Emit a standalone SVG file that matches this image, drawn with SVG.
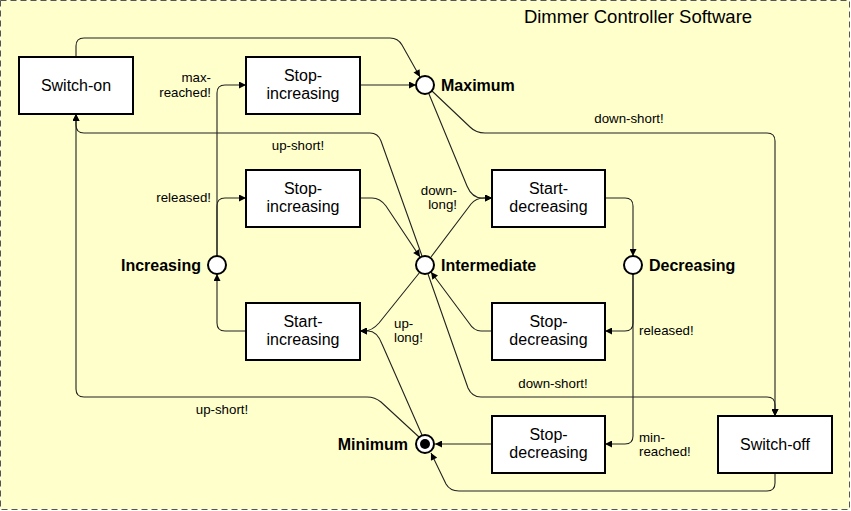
<svg xmlns="http://www.w3.org/2000/svg" width="851" height="511" viewBox="0 0 851 511">
<style>
text{font-family:"Liberation Sans",Arial,sans-serif;fill:#000}
.box{fill:#fff;stroke:#000;stroke-width:2}
.bt{font-size:16px;text-anchor:middle}
.st{fill:#fff;stroke:#000;stroke-width:2}
.sl{font-size:16px;font-weight:bold}
.lb{font-size:13.3px}
.c{fill:none;stroke:#222;stroke-width:1.1}
.a{marker-end:url(#arr)}
</style>
<defs>
<marker id="arr" viewBox="0 0 10 10" refX="10" refY="5" markerWidth="8" markerHeight="7" markerUnits="userSpaceOnUse" orient="auto"><path d="M0,0 L10,5 L0,10 z" fill="#000"/></marker>
</defs>
<rect x="0.5" y="0.5" width="849" height="509" fill="#ffffcc" stroke="#555" stroke-width="1" stroke-dasharray="6,4"/>
<text x="638" y="23" style="font-size:18.5px" text-anchor="middle">Dimmer Controller Software</text>

<g id="connectors">
<path class="c a" d="M76,57 V46 Q76,38 84,38 H390 Q398,38 402,45 L420,77"/>
<path class="c a" d="M360,85 H416"/>
<path class="c a" d="M217,256 V93 Q217,85 225,85 H246"/>
<path class="c a" d="M217,256 V206 Q217,198 225,198 H246"/>
<path class="c a" d="M360,198 H372 Q380,198 386,206 L420,257"/>
<path class="c a" d="M429,94 L467,186 Q472,198 482,198 H492"/>
<path class="c a" d="M431,257 L471,204 Q476,198 484,198 H492"/>
<path class="c a" d="M432,91 L470,127 Q476,133 485,133 H767 Q775,133 775,141 V416"/>
<path class="c a" d="M422,256 L381,141 Q378,133 370,133 H84 Q76,133 76,125 V114"/>
<path class="c a" d="M419,437 L381,402 Q375,397 367,397 H84 Q76,397 76,389 V114"/>
<path class="c a" d="M422,435 L382,344 Q377,331 368,331 H360"/>
<path class="c a" d="M420,272 L379,323 Q372,331 364,331 H360"/>
<path class="c a" d="M246,331 H225 Q217,331 217,323 V274"/>
<path class="c a" d="M605,198 H625 Q633,198 633,206 V256"/>
<path class="c a" d="M633,274 V323 Q633,331 625,331 H605"/>
<path class="c a" d="M633,274 V436 Q633,444 625,444 H605"/>
<path class="c a" d="M492,331 H481 Q474,331 469,323 L431,272"/>
<path class="c a" d="M428,274 L468,388 Q472,397 481,397 H767 Q775,397 775,405 V416"/>
<path class="c a" d="M492,444 H435"/>
<path class="c a" d="M775,473 V483 Q775,491 767,491 H459 Q450,491 446,484 L431,453"/>
<text class="lb" x="211" y="82" text-anchor="end">max-</text>
<text class="lb" x="211" y="97" text-anchor="end">reached!</text>
<text class="lb" x="211" y="202" text-anchor="end">released!</text>
<text class="lb" x="298" y="150" text-anchor="middle">up-short!</text>
<text class="lb" x="457" y="195" text-anchor="end">down-</text>
<text class="lb" x="457" y="209" text-anchor="end">long!</text>
<text class="lb" x="629" y="123" text-anchor="middle">down-short!</text>
<text class="lb" x="394" y="328" text-anchor="start">up-</text>
<text class="lb" x="394" y="342" text-anchor="start">long!</text>
<text class="lb" x="639" y="335" text-anchor="start">released!</text>
<text class="lb" x="553" y="388" text-anchor="middle">down-short!</text>
<text class="lb" x="222" y="414" text-anchor="middle">up-short!</text>
<text class="lb" x="639" y="442" text-anchor="start">min-</text>
<text class="lb" x="639" y="456" text-anchor="start">reached!</text>
</g>

<g id="switch-on"><rect class="box" x="19" y="57" width="114" height="57"/><text class="bt" x="76" y="91">Switch-on</text></g>
<g id="stop-increasing-1"><rect class="box" x="246" y="57" width="114" height="57"/><text class="bt" x="303" y="81">Stop-</text><text class="bt" x="303" y="99">increasing</text></g>
<g id="stop-increasing-2"><rect class="box" x="246" y="170" width="114" height="57"/><text class="bt" x="303" y="194">Stop-</text><text class="bt" x="303" y="212">increasing</text></g>
<g id="start-increasing"><rect class="box" x="246" y="303" width="114" height="57"/><text class="bt" x="303" y="327">Start-</text><text class="bt" x="303" y="345">increasing</text></g>
<g id="start-decreasing"><rect class="box" x="492" y="170" width="113" height="57"/><text class="bt" x="548.5" y="194">Start-</text><text class="bt" x="548.5" y="212">decreasing</text></g>
<g id="stop-decreasing-1"><rect class="box" x="492" y="303" width="113" height="57"/><text class="bt" x="548.5" y="327">Stop-</text><text class="bt" x="548.5" y="345">decreasing</text></g>
<g id="stop-decreasing-2"><rect class="box" x="492" y="416" width="113" height="57"/><text class="bt" x="548.5" y="440">Stop-</text><text class="bt" x="548.5" y="458">decreasing</text></g>
<g id="switch-off"><rect class="box" x="718" y="416" width="114" height="57"/><text class="bt" x="775" y="450">Switch-off</text></g>

<g id="maximum"><circle class="st" cx="425" cy="85" r="9"/><text class="sl" x="441" y="91">Maximum</text></g>
<g id="intermediate"><circle class="st" cx="425" cy="265" r="9"/><text class="sl" x="441" y="271">Intermediate</text></g>
<g id="increasing"><circle class="st" cx="217" cy="265" r="9"/><text class="sl" x="201" y="271" text-anchor="end">Increasing</text></g>
<g id="decreasing"><circle class="st" cx="633" cy="265" r="9"/><text class="sl" x="649" y="271">Decreasing</text></g>
<g id="minimum"><circle class="st" cx="425" cy="444" r="9"/><circle cx="425" cy="444" r="5" fill="#000"/><text class="sl" x="408" y="450" text-anchor="end">Minimum</text></g>
</svg>
